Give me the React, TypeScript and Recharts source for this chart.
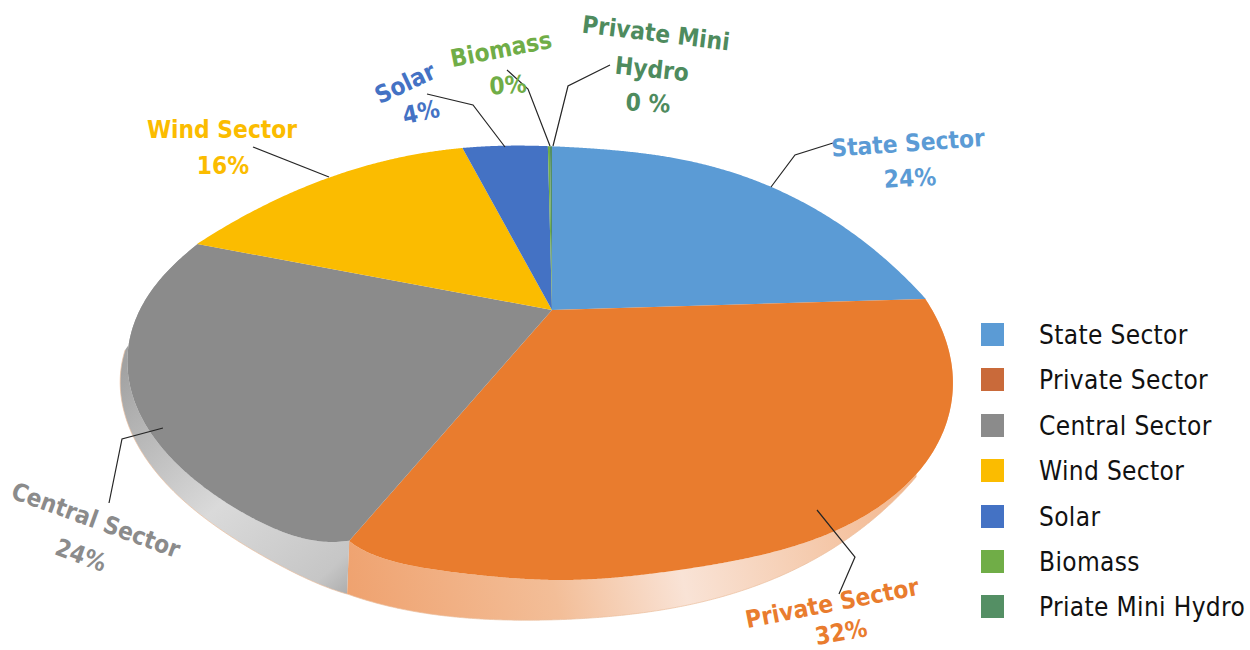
import React from "react";
import { PieChart, Pie, Legend } from "recharts";

const categories = ["State Sector", "Private Sector", "Central Sector", "Wind Sector", "Solar", "Biomass", "Priate Mini Hydro"];
const shareValues = [24, 32, 24, 16, 3.8, 0.1, 0.1];
const sliceColors = ["#5B9BD5", "#E97C2E", "#8B8B8B", "#FBBC00", "#4472C4", "#70AD47", "#548F64"];
const legendColors = ["#5B9BD5", "#C96A3A", "#8B8B8B", "#FBBC00", "#4472C4", "#70AD47", "#548F64"];
const labelColors = ["#5B9BD5", "#E97C2E", "#8B8B8B", "#FBBC00", "#4472C4", "#70AD47", "#4E8B5E"];

const chartData = categories.map((name, i) => ({ name, value: shareValues[i], fill: sliceColors[i] }));

type Pt = [number, number];
type LabelLine = { t: string; x: number; y: number; r: number };

const labelLayout: { lines: LabelLine[]; leader: Pt[] }[] = [
  { lines: [{ t: "State Sector", x: 908, y: 143, r: -4 }, { t: "24%", x: 910, y: 178, r: -3 }], leader: [[771, 187], [795, 155], [833, 143]] },
  { lines: [{ t: "Private Sector", x: 832, y: 603, r: -11 }, { t: "32%", x: 841, y: 632, r: -10 }], leader: [[817, 510], [855, 557], [839, 594]] },
  { lines: [{ t: "Central Sector", x: 96, y: 520, r: 20 }, { t: "24%", x: 81, y: 555, r: 20 }], leader: [[163, 428], [122, 439], [109, 503]] },
  { lines: [{ t: "Wind Sector", x: 222, y: 129, r: 0 }, { t: "16%", x: 223, y: 165, r: 0 }], leader: [[329, 177], [253, 147]] },
  { lines: [{ t: "Solar", x: 405, y: 83, r: -25 }, { t: "4%", x: 421, y: 112, r: -12 }], leader: [[505, 147], [473, 105], [427, 94]] },
  { lines: [{ t: "Biomass", x: 501, y: 49, r: -11 }, { t: "0%", x: 508, y: 85, r: -4 }], leader: [[550, 146], [528, 89], [507, 70]] },
  { lines: [{ t: "Private Mini", x: 656, y: 33, r: 7 }, { t: "Hydro", x: 652, y: 69, r: 6 }, { t: "0 %", x: 648, y: 103, r: 3 }], leader: [[553, 146], [568, 86], [610, 65]] },
];

const FONT = "'DejaVu Sans Condensed', 'DejaVu Sans', sans-serif";

// Perspective outline of the tilted disc: traced rims, each smoothed by a polar polynomial around the apex.
const upperRim: Pt[] = [[197, 244], [270, 203], [329, 177], [387, 160], [463, 149], [510, 146], [552, 145], [660, 156], [771, 187], [827, 217], [877, 250], [925, 299]];
const privateRim: Pt[] = [[925, 299], [940, 323], [950, 357], [952, 383], [948, 413], [937, 447], [917, 477], [880, 505], [840, 527], [740, 560], [673, 572], [607, 577], [547, 580], [457, 573], [397, 562], [349, 541]];
const centralRim: Pt[] = [[349, 541], [297, 535], [253, 520], [210, 493], [177, 463], [150, 428], [135, 400], [127, 373], [125, 350], [137, 317], [160, 282], [197, 244]];
const privateEdge: Pt[] = [[917, 477], [873, 517], [840, 543], [807, 567], [740, 590], [673, 607], [607, 617], [540, 621], [473, 618], [407, 610], [347, 594]];
const centralEdge: Pt[] = [[347, 594], [303, 577], [253, 550], [203, 517], [163, 480], [137, 443], [123, 410], [121, 373], [125, 350]];

// Pie angle (degrees clockwise from the top) -> point the slice boundary reaches.
const boundaryKnots: [number, Pt][] = [[0, [552, 145]], [86.4, [925, 299]], [201.6, [349, 541]], [288, [197, 244]], [345.6, [463, 149]], [360, [552, 145]]];

const APEX: Pt = [552, 310];
const TAU = 2 * Math.PI;
const rawAngle = (p: Pt) => Math.atan2(p[1] - APEX[1], p[0] - APEX[0]);

function fitPolar(points: Pt[], degree: number) {
  const angles: number[] = [];
  points.forEach((p, i) => {
    let a = rawAngle(p);
    while (i > 0 && a <= angles[i - 1]) a += TAU;
    angles.push(a);
  });
  const a0 = angles[0], a1 = angles[angles.length - 1];
  const norm = (a: number) => ((a - a0) / (a1 - a0)) * 2 - 1;
  const size = degree + 1;
  const m: number[][] = Array.from({ length: size }, () => new Array(size + 1).fill(0));
  points.forEach((p, idx) => {
    const t = norm(angles[idx]);
    const rho = Math.hypot(p[0] - APEX[0], p[1] - APEX[1]);
    const r = Array.from({ length: size }, (_, i) => Math.pow(t, i));
    for (let i = 0; i < size; i++) {
      for (let j = 0; j < size; j++) m[i][j] += r[i] * r[j];
      m[i][size] += r[i] * rho;
    }
  });
  for (let c = 0; c < size; c++) {
    let p = c;
    for (let r = c + 1; r < size; r++) if (Math.abs(m[r][c]) > Math.abs(m[p][c])) p = r;
    [m[c], m[p]] = [m[p], m[c]];
    for (let r = 0; r < size; r++) {
      if (r === c) continue;
      const f = m[r][c] / m[c][c];
      for (let k = c; k <= size; k++) m[r][k] -= f * m[c][k];
    }
  }
  const coef = m.map((row, i) => row[size] / row[i]);
  return {
    a0,
    a1,
    at(phi: number): Pt {
      let a = phi;
      while (a < a0 - 0.1) a += TAU;
      while (a > a0 + TAU - 0.1) a -= TAU;
      const t = Math.max(-1, Math.min(1, norm(a)));
      const rho = coef.reduce((s, c, i) => s + c * Math.pow(t, i), 0);
      return [APEX[0] + rho * Math.cos(phi), APEX[1] + rho * Math.sin(phi)];
    },
  };
}

const knotAngles: number[] = [];
boundaryKnots.forEach(([, p], i) => {
  let a = rawAngle(p);
  while (i > 0 && a <= knotAngles[i - 1]) a += TAU;
  knotAngles.push(a);
});
const pageAngle = (deg: number) => {
  for (let k = 1; k < boundaryKnots.length; k++) {
    const d0 = boundaryKnots[k - 1][0], d1 = boundaryKnots[k][0];
    if (deg <= d1) return knotAngles[k - 1] + ((deg - d0) / (d1 - d0)) * (knotAngles[k] - knotAngles[k - 1]);
  }
  return knotAngles[knotAngles.length - 1];
};

const upperCurve = fitPolar(upperRim, 5);
const sliceCurves: Record<string, ReturnType<typeof fitPolar>> = {
  "Private Sector": fitPolar(privateRim, 7),
  "Central Sector": fitPolar(centralRim, 5),
};

const sweep = (curve: ReturnType<typeof fitPolar>, from: number, to: number): Pt[] => {
  const n = Math.max(2, Math.ceil((Math.abs(to - from) * 180) / Math.PI) * 3);
  return Array.from({ length: n + 1 }, (_, i) => curve.at(from + ((to - from) * i) / n));
};
const toPath = (pts: Pt[]) => pts.map((p, i) => `${i ? "L" : "M"}${p[0].toFixed(2)} ${p[1].toFixed(2)}`).join(" ");

const edgeSweep = (points: Pt[]): Pt[] => {
  const curve = fitPolar(points, 5);
  return sweep(curve, curve.a0, curve.a1);
};

const sideBands: Record<string, { id: string; g: [number, number, number, number]; stops: [number, string][]; edge: Pt[] }> = {
  "Private Sector": {
    id: "bandPrivate",
    g: [348, 600, 918, 480],
    stops: [[0, "#EFA26F"], [0.35, "#F3BE98"], [0.57, "#F9E3D6"], [0.8, "#F5CBAE"], [1, "#F3B58B"]],
    edge: privateEdge,
  },
  "Central Sector": {
    id: "bandCentral",
    g: [121, 370, 350, 620],
    stops: [[0, "#A2A2A2"], [0.49, "#DADADA"], [0.85, "#C6C6C6"], [1, "#9C9C9C"]],
    edge: centralEdge,
  },
};

function Slice(props: any) {
  const p0 = pageAngle(90 - props.startAngle);
  const p1 = pageAngle(90 - props.endAngle);
  const band = sideBands[props.name];
  const top = sweep(sliceCurves[props.name] || upperCurve, p0, p1);
  let side = null;
  if (band) {
    const low = edgeSweep(band.edge);
    side = (
      <g>
        <defs>
          <linearGradient id={band.id} gradientUnits="userSpaceOnUse" x1={band.g[0]} y1={band.g[1]} x2={band.g[2]} y2={band.g[3]}>
            {band.stops.map(([o, c]) => <stop key={o} offset={o} stopColor={c} />)}
          </linearGradient>
        </defs>
        <path d={`${toPath(top)} L${toPath(low.slice().reverse()).slice(1)} Z`} fill={`url(#${band.id})`} />
        <path d={toPath(low)} fill="none" stroke="#EBBE9E" strokeWidth={0.7} />
      </g>
    );
  }
  return (
    <g>
      {side}
      <path d={`M${props.cx} ${props.cy} L${toPath(top).slice(1)} Z`} fill={props.fill} />
    </g>
  );
}

function SliceLabel(props: any) {
  const i = props.index as number;
  const l = labelLayout[i];
  return (
    <g>
      <polyline points={l.leader.map((p) => p.join(",")).join(" ")} fill="none" stroke="#262626" strokeWidth={1.2} />
      {l.lines.map((ln) => (
        <text
          key={ln.t}
          x={ln.x}
          y={ln.y}
          textAnchor="middle"
          dominantBaseline="central"
          transform={`rotate(${ln.r} ${ln.x} ${ln.y})`}
          fontFamily={FONT}
          fontSize={24.3}
          fontWeight={700}
          fill={labelColors[i]}
        >
          {ln.t}
        </text>
      ))}
    </g>
  );
}

function LegendList(props: any) {
  const payload = props.payload || [];
  return (
    <div>
      {payload.map((item: any, i: number) => (
        <div key={item.value} style={{ position: "absolute", left: 0, top: i * 45.4, height: 24, width: 269, whiteSpace: "nowrap" }}>
          <span style={{ position: "absolute", left: 0, top: 0, width: 23, height: 23, background: legendColors[i] }} />
          <span style={{ position: "absolute", left: 58, top: -3, fontFamily: FONT, fontSize: 26, letterSpacing: 0.35, lineHeight: "30px", color: "#111" }}>{item.value}</span>
        </div>
      ))}
    </div>
  );
}

export default function App() {
  return (
    <div style={{ position: "fixed", left: 0, top: 0, width: 1250, height: 650, background: "#fff", overflow: "hidden" }}>
      <PieChart width={1250} height={650} margin={{ top: 0, right: 0, bottom: 0, left: 0 }}>
        <Pie
          data={chartData}
          dataKey="value"
          nameKey="name"
          cx={552}
          cy={310}
          outerRadius={165}
          startAngle={90}
          endAngle={-270}
          stroke="none"
          shape={Slice}
          label={SliceLabel}
          labelLine={false}
          isAnimationActive={false}
        />
        <Legend
          itemSorter={null}
          content={LegendList}
          wrapperStyle={{ position: "absolute", left: 981, top: 323, width: 269, height: 310, bottom: "auto", right: "auto" }}
        />
      </PieChart>
    </div>
  );
}
